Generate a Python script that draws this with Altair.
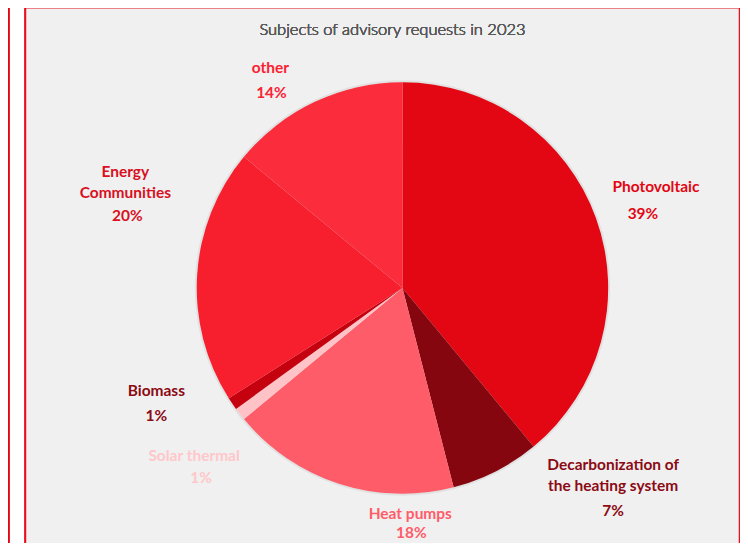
import altair as alt
import pandas as pd

# ---- data ----
categories = ["Photovoltaic", "Decarbonization of the heating system", "Heat pumps",
              "Solar thermal", "Biomass", "Energy Communities", "other"]
name_lines = ["Photovoltaic", "Decarbonization of\nthe heating system", "Heat pumps",
              "Solar thermal", "Biomass", "Energy\nCommunities", "other"]
shares = [39, 7, 18, 1, 1, 20, 14]
slice_colors = ["#e30613", "#85060f", "#ff5c69", "#ffc2c6", "#c5000f", "#f71e2d", "#fb2c3b"]
label_colors = ["#e30613", "#8b0a14", "#ff5c69", "#ffc7ca", "#8b0a14", "#d8101f", "#fb2233"]
title_text = "Subjects of advisory requests in 2023"

df = pd.DataFrame({
    "category": categories,
    "name": name_lines,
    "share": shares,
    "pct": [f"{v}%" for v in shares],
    "idx": list(range(len(categories))),
})

# ---- layout ----
W, H = 670, 500
PAD = {"left": 60, "top": 30, "right": 3, "bottom": 5}
R = 206
LABEL_R = 240
FONT = "Lato"
FS = 15.5
# per-label nudges (name dx, name dy [first line], pct dx, pct dy)
nudges = {
    "Photovoltaic": (28, -20, 15, 7),
    "Decarbonization of the heating system": (102, -37, 102, 9),
    "Heat pumps": (82, -2, 83, 17),
    "Solar thermal": (-19, 21, -12, 43),
    "Biomass": (-48, -32, -48, -7),
    "Energy Communities": (-38, -101, -36, -57),
    "other": (-30, -3, -29, 22),
}

base = alt.Chart(df)

color_scale = alt.Scale(domain=categories, range=slice_colors)

frame = base.mark_rect(fill="#f0f0f0", stroke="#e8101e", strokeWidth=1.5).encode(
    x=alt.value(-42.5), x2=alt.value(672.5), y=alt.value(-30.5), y2=alt.value(H + 30)
)
left_border = base.mark_rule(color="#e30613", strokeWidth=1.5).encode(
    x=alt.value(-59.5), y=alt.value(-40), y2=alt.value(H + 30)
)
title = base.mark_text(text=title_text, font=FONT, fontSize=16.5, fontWeight=300,
                       color="#595959", align="center", baseline="middle").encode(
    x=alt.value(325), y=alt.value(-8)
)

shadow = base.mark_arc(outerRadius=R + 2, stroke=None, color="#000000", opacity=0.06).encode(
    theta=alt.Theta("share:Q", stack=True),
    order=alt.Order("idx:Q"),
)

pie = base.mark_arc(outerRadius=R, stroke=None).encode(
    theta=alt.Theta("share:Q", stack=True),
    color=alt.Color("category:N", scale=color_scale, legend=None),
    order=alt.Order("idx:Q"),
)

labelled = base.transform_joinaggregate(total="sum(share)").transform_window(
    cum="sum(share)", sort=[alt.SortField("idx")]
).transform_calculate(
    mid="(datum.cum - datum.share / 2) / datum.total * 2 * PI"
)

layers = [frame, left_border, title, shadow, pie]
for cat, lc in zip(categories, label_colors):
    ndx, ndy, pdx, pdy = nudges[cat]
    sub = labelled.transform_filter(alt.datum.category == cat)
    layers.append(sub.mark_text(font=FONT, fontSize=FS, fontWeight="bold", color=lc,
                                align="center", baseline="middle", lineBreak="\n",
                                lineHeight=21, dx=ndx, dy=ndy).encode(
        theta=alt.Theta("mid:Q", scale=None),
        radius=alt.value(LABEL_R),
        text="name:N"))
    layers.append(sub.mark_text(font=FONT, fontSize=FS, fontWeight="bold", color=lc,
                                align="center", baseline="middle", dx=pdx, dy=pdy).encode(
        theta=alt.Theta("mid:Q", scale=None),
        radius=alt.value(LABEL_R),
        text="pct:N"))

chart = alt.layer(*layers).properties(
    width=W, height=H,
    padding=PAD,
    autosize=alt.AutoSizeParams(type="none"),
    background="#ffffff",
).configure_view(stroke=None)

chart.save("out.html", embed_options={"renderer": "svg", "actions": False})
